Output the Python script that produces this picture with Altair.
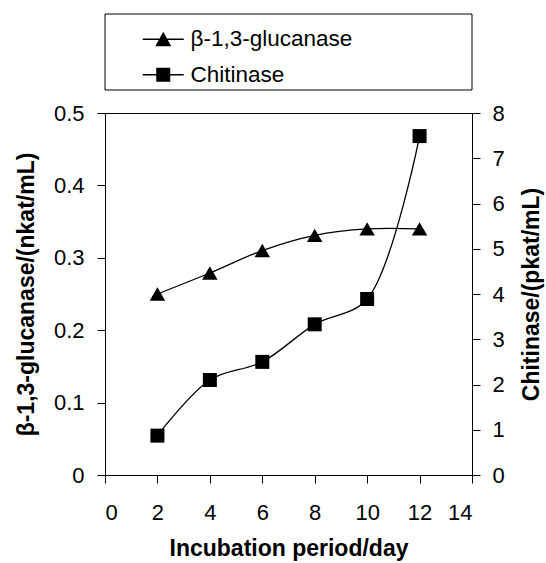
import altair as alt
import pandas as pd

# ---- data ----
days = [2, 4, 6, 8, 10, 12]
glucanase = [0.25, 0.279, 0.31, 0.331, 0.34, 0.34]
chitinase = [0.87, 2.10, 2.50, 3.33, 3.89, 7.49]

series = ["β-1,3-glucanase", "Chitinase"]
x_ticks = [0, 2, 4, 6, 8, 10, 12, 14]
left_ticks = [0, 0.1, 0.2, 0.3, 0.4, 0.5]
right_ticks = [0, 1, 2, 3, 4, 5, 6, 7, 8]

df = pd.DataFrame({"day": days, "glucanase": glucanase, "chitinase": chitinase})
legend_df = pd.DataFrame({"series": series})
one_row = pd.DataFrame({"a": [0]})

W, H = 367, 362
FONT = "Liberation Sans"

# legend symbols: thin bar (line segment) with marker, all filled, same winding
legend_paths = [
    "M-2.05,-0.065H2.05V0.065H-2.05ZM0,-0.75L0.8,0.7L-0.8,0.7Z",
    "M-2.05,-0.065H2.05V0.065H-2.05ZM-0.7,-0.7H0.7V0.7H-0.7Z",
]

x_enc = alt.X(
    "day:Q",
    scale=alt.Scale(domain=[0, 14], nice=False),
    axis=alt.Axis(
        values=x_ticks, title="Incubation period/day", format="d",
        tickSize=8, labelPadding=19, titlePadding=14,
    ),
)

base = alt.Chart(df)

gl_y = alt.Y(
    "glucanase:Q",
    scale=alt.Scale(domain=[0, 0.5], nice=False),
    axis=alt.Axis(
        values=left_ticks, format="~g", title="β-1,3-glucanase/(nkat/mL)",
        tickSize=8, labelPadding=13, titlePadding=15,
    ),
)
gl_line = base.mark_line(color="black", strokeWidth=1.3, interpolate="catmull-rom").encode(x=x_enc, y=gl_y)
gl_pts = base.mark_point(shape="triangle-up", filled=True, color="black", size=240, opacity=1).encode(
    x="day:Q", y="glucanase:Q"
)
left = alt.layer(gl_line, gl_pts)

ch_y = alt.Y(
    "chitinase:Q",
    scale=alt.Scale(domain=[0, 8], nice=False),
    axis=alt.Axis(
        orient="right", values=right_ticks, format="d", title="Chitinase/(pkat/mL)",
        tickSize=8, labelPadding=12, titlePadding=16, titleAngle=270, titleBaseline="top",
    ),
)
ch_line = base.mark_line(color="black", strokeWidth=1.3, interpolate="catmull-rom").encode(x="day:Q", y=ch_y)
ch_pts = base.mark_point(shape="square", filled=True, color="black", size=196, opacity=1).encode(
    x="day:Q", y="chitinase:Q"
)
right = alt.layer(ch_line, ch_pts)

legend_layer = alt.Chart(legend_df).mark_point(
    filled=True, fill="black", opacity=0
).encode(
    shape=alt.Shape(
        "series:N",
        scale=alt.Scale(domain=series, range=legend_paths),
        legend=alt.Legend(
            orient="none", legendX=47, legendY=-85, title=None, padding=0,
            symbolSize=400, symbolFillColor="black", symbolStrokeWidth=0,
            symbolOpacity=1, labelFontSize=22.5, labelFont=FONT,
            labelColor="black", labelOffset=16, rowPadding=12.5, labelLimit=400,
        ),
    )
)

legend_box = alt.Chart(one_row).mark_rect(filled=False, stroke="black", strokeWidth=1).encode(
    x=alt.value(0), x2=alt.value(W), y=alt.value(-99), y2=alt.value(-23)
)

chart = (
    alt.layer(left, right, legend_layer, legend_box)
    .resolve_scale(y="independent")
    .properties(
        width=W, height=H,
        autosize=alt.AutoSizeParams(type="none"),
        padding={"left": 105, "top": 113, "right": 546 - 105 - W, "bottom": 563 - 113 - H},
        background="white",
    )
    .configure_view(stroke="black", strokeWidth=1)
    .configure_axis(
        grid=False, domainColor="black", domainWidth=1, tickColor="black", tickWidth=1,
        labelFont=FONT, labelFontSize=22, labelColor="black",
        titleFont=FONT, titleFontSize=23, titleFontWeight="bold", titleColor="black",
    )
)

chart.save("out.html", embed_options={"renderer": "svg", "actions": False})
